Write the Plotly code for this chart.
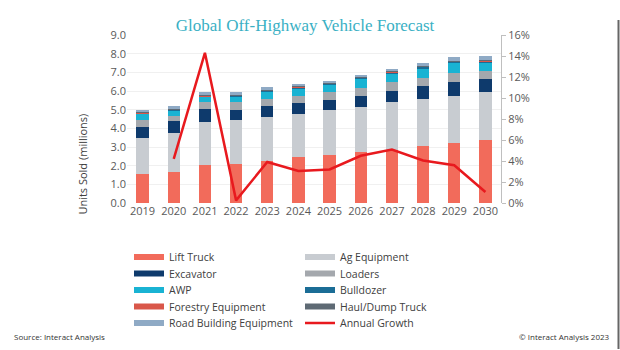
import plotly.graph_objects as go

years = [str(y) for y in range(2019, 2031)]

lift_truck = [1.56, 1.65, 2.06, 2.11, 2.27, 2.45, 2.59, 2.72, 2.86, 3.04, 3.22, 3.40]
ag_equipment = [1.93, 2.10, 2.28, 2.32, 2.34, 2.32, 2.37, 2.42, 2.53, 2.53, 2.53, 2.53]
excavator = [0.58, 0.63, 0.70, 0.57, 0.57, 0.59, 0.54, 0.61, 0.63, 0.68, 0.71, 0.73]
loaders = [0.39, 0.30, 0.35, 0.39, 0.39, 0.39, 0.43, 0.41, 0.45, 0.44, 0.50, 0.39]
awp = [0.31, 0.28, 0.29, 0.32, 0.41, 0.41, 0.41, 0.50, 0.49, 0.54, 0.54, 0.48]
bulldozer = [0.05, 0.05, 0.05, 0.05, 0.05, 0.05, 0.05, 0.05, 0.05, 0.06, 0.06, 0.06]
forestry = [0.02, 0.02, 0.02, 0.02, 0.02, 0.02, 0.02, 0.02, 0.02, 0.02, 0.02, 0.02]
haul_dump = [0.03, 0.03, 0.03, 0.03, 0.03, 0.03, 0.03, 0.03, 0.03, 0.04, 0.04, 0.04]
road_building = [0.11, 0.15, 0.15, 0.12, 0.11, 0.11, 0.11, 0.11, 0.13, 0.15, 0.18, 0.20]

growth_years = years[1:]
annual_growth = [4.2, 14.3, 0.25, 3.9, 3.05, 3.2, 4.5, 5.1, 4.05, 3.6, 1.05]

series = [
    ("Lift Truck", lift_truck, "#f26b5b"),
    ("Ag Equipment", ag_equipment, "#c8ccd1"),
    ("Excavator", excavator, "#0e3a6c"),
    ("Loaders", loaders, "#a4a8ad"),
    ("AWP", awp, "#19b3d3"),
    ("Bulldozer", bulldozer, "#1b6d96"),
    ("Forestry Equipment", forestry, "#d9574a"),
    ("Haul/Dump Truck", haul_dump, "#5e6a74"),
    ("Road Building Equipment", road_building, "#8faac5"),
]

legend_ids = ["legend", "legend2", "legend3", "legend4", "legend5"]

fig = go.Figure()
for name, vals, color in series:
    fig.add_trace(go.Bar(x=years, y=vals, name=name, marker_color=color,
                         marker_line_width=0, showlegend=False, hoverinfo="skip"))

fig.add_trace(go.Scatter(x=growth_years, y=annual_growth, name="Annual Growth",
                         mode="lines", line=dict(color="#e8191e", width=2.5),
                         yaxis="y2", showlegend=False))

# legend entries (swatches), two per row
for i, (name, vals, color) in enumerate(series):
    fig.add_trace(go.Scatter(x=[None], y=[None], mode="lines", name=name,
                             line=dict(color=color, width=6), legend=legend_ids[i // 2]))
fig.add_trace(go.Scatter(x=[None], y=[None], mode="lines", name="Annual Growth",
                         line=dict(color="#e8191e", width=2.5), legend="legend5"))

tickfont = dict(family="Open Sans, Noto Sans, sans-serif", size=11, color="#595959")
legfont = dict(family="Open Sans, Noto Sans, sans-serif", size=10.5, color="#404040")

L, R, T, B = 127, 119, 35, 146.5
PH = 350 - B - T
PW = 620 - L - R

def px(xp):
    return (xp - L) / PW

def py(yp):
    return (350 - B - yp) / PH

row_y = [257, 273.5, 290, 306.5, 323]
legends = {}
for k, lid in enumerate(legend_ids):
    legends[lid] = dict(xref="container", yref="container", x=129/620, y=1 - row_y[k]/350,
                        xanchor="left", yanchor="middle", font=legfont, orientation="h",
                        traceorder="normal", bgcolor="rgba(0,0,0,0)", itemwidth=30,
                        entrywidth=126, entrywidthmode="pixels")

fig.update_layout(
    width=620, height=350,
    margin=dict(l=L, r=R, t=T, b=B, autoexpand=False),
    paper_bgcolor="white", plot_bgcolor="white",
    barmode="stack", bargap=0.6,
    title=dict(text="Global Off-Highway Vehicle Forecast",
               font=dict(family="Liberation Serif, DejaVu Serif, serif", size=17, color="#3ab0c4"),
               x=305/620, xanchor="center", xref="container",
               y=1 - 25/350, yanchor="middle", yref="container"),
    xaxis=dict(type="category", tickfont=tickfont, showline=False, ticks="",
               showgrid=False),
    yaxis=dict(range=[0, 9], dtick=1, tickformat=".1f", tickfont=tickfont,
               showgrid=True, gridcolor="#f0f0f0", zeroline=False, showline=False),
    yaxis2=dict(range=[0, 16], dtick=2, ticksuffix="%", overlaying="y", side="right",
                tickfont=tickfont, showgrid=False, zeroline=False,
                showline=True, linecolor="#bfbfbf", linewidth=1,
                ticks="outside", ticklen=4, tickcolor="#bfbfbf"),
    annotations=[
        dict(text="Units Sold (millions)", xref="paper", yref="paper",
             x=px(83), y=py(165),
             textangle=-90, showarrow=False, xanchor="center", yanchor="middle",
             font=dict(family="Open Sans, Noto Sans, sans-serif", size=11, color="#404040")),
        dict(text="Source: Interact Analysis", xref="paper", yref="paper",
             x=px(12), y=py(337),
             showarrow=False, xanchor="left", yanchor="middle",
             font=dict(family="Open Sans, Noto Sans, sans-serif", size=8, color="#333333")),
        dict(text="© Interact Analysis 2023", xref="paper", yref="paper",
             x=px(612), y=py(337),
             showarrow=False, xanchor="right", yanchor="middle",
             font=dict(family="Open Sans, Noto Sans, sans-serif", size=8, color="#333333")),
    ],
    shapes=[
        dict(type="line", xref="paper", yref="paper",
             x0=px(618.5), x1=px(618.5), y0=py(350), y1=py(20),
             line=dict(color="#666666", width=2)),
    ],
    **legends,
)

fig.write_html("out.html")
